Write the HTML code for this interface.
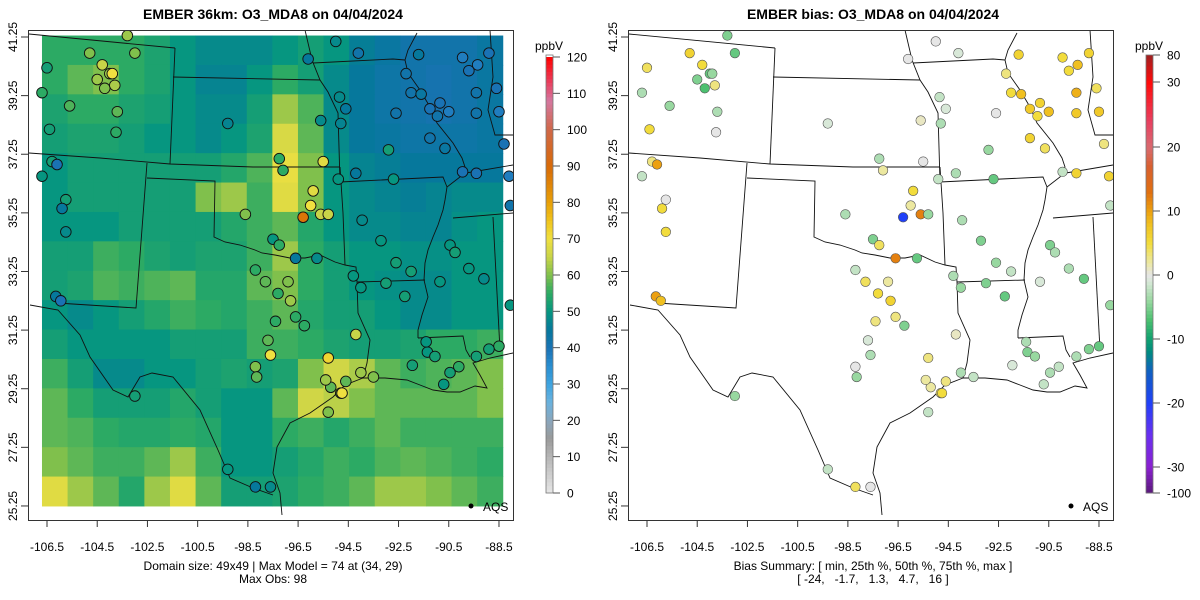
<!DOCTYPE html>
<html><head><meta charset="utf-8">
<style>
html,body{margin:0;padding:0;background:#fff;}
svg{display:block;font-family:"Liberation Sans",sans-serif;}
</style></head>
<body>
<svg id="chart" width="1200" height="600" viewBox="0 0 1200 600" xmlns="http://www.w3.org/2000/svg">
<defs>
<clipPath id="clipL"><rect x="28" y="30" width="485" height="490"/></clipPath>
<clipPath id="clipR"><rect x="628" y="30" width="485" height="490"/></clipPath>
</defs>
<rect width="1200" height="600" fill="#fff"/>
<text x="273" y="19" text-anchor="middle" font-size="14" font-weight="bold">EMBER 36km: O3_MDA8 on 04/04/2024</text>
<text x="873" y="19" text-anchor="middle" font-size="14" font-weight="bold">EMBER bias: O3_MDA8 on 04/04/2024</text>
<g id="left"></g>
<g id="right" transform="translate(600,0)"></g>
<text x="273" y="570" text-anchor="middle" font-size="12">Domain size: 49x49 | Max Model = 74 at (34, 29)</text>
<text x="273" y="583" text-anchor="middle" font-size="12">Max Obs: 98</text>
<text x="873" y="570" text-anchor="middle" font-size="12">Bias Summary: [ min, 25th %, 50th %, 75th %, max ]</text>
<text x="873" y="583" text-anchor="middle" font-size="12" xml:space="preserve">[ -24,   -1.7,   1.3,   4.7,   16 ]</text>
</svg>
<script>
// ---- data ----
const lonTicks = [-106.5,-104.5,-102.5,-100.5,-98.5,-96.5,-94.5,-92.5,-90.5,-88.5];
const latTicks = [41.25,39.25,37.25,35.25,33.25,31.25,29.25,27.25,25.25];
const obsTicks = [0,10,20,30,40,50,60,70,80,90,100,110,120];
const biasTicks = [80,30,20,10,0,-10,-20,-30,-100];
// coarse model grid (rows north->south, cols west->east), ppbV
const modelGrid = [
[55,55,55,55,53,50,48,48,48,50,52,50,46,44,42,42,42,44],
[55,58,60,55,53,50,47,47,50,55,52,48,45,43,42,41,42,44],
[53,55,55,53,52,50,48,48,52,62,57,48,45,43,42,41,42,44],
[52,53,53,52,50,50,48,50,53,67,58,48,45,44,43,43,43,44],
[50,52,52,52,52,52,52,54,57,69,60,50,47,46,45,45,45,45],
[50,52,52,52,52,52,60,62,56,68,60,50,48,47,46,47,48,48],
[50,50,50,52,52,52,52,54,56,58,54,50,48,48,47,47,49,50],
[52,52,56,55,53,52,53,53,56,62,55,52,50,50,49,49,50,50],
[52,53,57,56,57,58,54,54,58,60,55,52,50,49,48,48,50,50],
[50,48,50,52,54,56,55,54,56,58,54,52,52,50,48,48,50,50],
[52,50,50,50,50,52,52,52,56,56,55,53,52,52,53,55,55,56],
[56,52,48,48,50,50,52,53,52,53,60,66,63,58,56,57,58,60],
[58,55,52,52,52,54,52,50,50,58,66,64,60,58,58,58,58,60],
[58,57,55,54,54,55,54,50,50,55,56,54,56,58,56,56,56,56],
[60,58,56,56,58,62,56,50,50,52,54,56,55,57,58,57,56,55],
[68,62,58,54,62,68,58,52,52,53,55,56,58,62,62,60,58,56]
];
const stLon = [-104.3,-104.0,-104.5,-104.2,-103.8,-103.9,-104.8,-103.3,-103.0,-103.7,-103.75,-105.6,-106.4,-106.7,-106.5,-106.3,-106.1,-106.7,-105.75,-105.75,-105.9,-106.15,-105.95,-103.0,-99.3,-98.2,-97.6,-99.3,-95.6,-95.0,-94.1,-96.1,-97.25,-97.1,-95.5,-94.2,-94.85,-94.6,-94.8,-95.9,-96.0,-96.3,-95.6,-95.3,-94.9,-98.6,-97.5,-97.25,-96.6,-95.75,-98.2,-97.8,-96.9,-97.3,-96.8,-96.6,-97.4,-96.25,-94.2,-94.0,-97.7,-97.6,-98.2,-98.15,-95.3,-95.2,-94.8,-95.4,-94.6,-94.75,-95.3,-94.0,-93.5,-91.35,-91.05,-90.45,-90.1,-89.4,-88.5,-91.95,-90.7,-90.45,-90.25,-89.7,-89.1,-90.85,-92.25,-92.6,-92.9,-92.7,-93.95,-93.2,-92.0,-92.2,-92.0,-92.6,-91.6,-90.85,-91.25,-90.95,-90.5,-91.25,-90.65,-89.95,-89.4,-89.4,-89.4,-89.7,-89.35,-88.6,-88.5,-88.3,-89.95,-91.7,-88.9,-88.1,-88.05,-88.05,-93.0,-94.3,-91.4,-88.9];
const stLat = [40.3,40.0,39.8,39.5,39.6,40.0,40.7,41.3,40.7,38.7,38.0,38.9,38.1,39.35,40.2,37.0,36.9,36.5,35.7,34.6,35.4,32.4,32.25,29.0,26.5,25.9,25.9,38.3,38.4,41.1,40.7,40.5,37.1,36.7,37.0,36.6,39.2,38.8,38.3,36.0,35.5,35.1,35.2,35.2,36.4,35.2,34.35,34.15,33.7,33.7,33.3,32.9,32.9,32.5,32.25,31.7,31.55,31.4,31.1,32.7,30.9,30.4,30.0,29.65,30.3,29.3,29.1,29.55,29.5,29.1,28.45,29.8,29.65,30.5,30.35,29.8,30.0,30.35,30.7,30.05,29.4,34.15,33.9,33.35,33.0,32.9,32.4,33.55,37.4,36.4,35.0,34.3,33.25,40.0,39.35,38.65,39.3,39.0,38.8,38.55,38.7,37.8,37.45,36.65,36.6,38.65,39.35,40.1,40.3,39.5,38.7,37.6,40.55,40.65,40.7,36.5,35.5,32.1,32.85,33.1,30.85,30.6];
const stObs = [65,62,62,60,63,70,60,62,60,58,55,57,52,55,52,52,40,50,52,48,45,45,40,52,50,45,48,47,48,48,42,45,55,55,68,45,48,45,47,68,70,88,65,65,50,60,50,55,45,48,55,58,60,55,62,55,55,55,65,50,58,70,60,58,72,58,60,62,58,70,60,62,60,50,52,52,55,52,55,52,50,50,52,50,48,50,52,52,52,50,48,50,52,42,42,42,44,40,40,42,38,42,44,40,40,42,42,40,38,40,38,40,38,45,40,38,42,50,52,50,50,52];
const stBias = [5,-6,-5,-7,3,-4,6,-5,-6,-3,0,-4,5,-3,4,3,10,-2,0,5,5,10,8,-4,-2,4,0,-1,1,0,-1,0,-3,2,0,-3,-2,-1,-3,5,2,-20,12,-4,-2,-3,-5,4,12,-6,-2,4,2,5,6,3,3,-5,1,-4,-1,-3,0,-4,3,2,4,2,3,5,-2,-3,-2,-5,-4,-3,-2,-3,-6,-1,-2,-5,-3,-3,-6,-1,-6,-4,-4,-6,-3,-5,-2,3,5,0,8,6,7,5,8,6,4,-2,6,7,9,5,8,4,7,3,5,6,6,6,-2,-4,-5,-3,-3,-5];

// ---- scales ----
function xS(lon){return 47+(lon+106.5)*25.11;}
function yS(lat){return 37+(41.25-lat)*29.31;}
const obsStops=[[0,"#e6e6e6"],[10,"#b6b6b6"],[15,"#9a9a9a"],[20,"#8aa6bc"],[25,"#6ab2de"],[30,"#3ea4e0"],[35,"#2a8ed0"],[40,"#1a72b4"],[45,"#06789c"],[50,"#069680"],[55,"#2caa64"],[60,"#80c04c"],[65,"#c8d448"],[70,"#f0e040"],[75,"#f0c41c"],[80,"#e8a008"],[90,"#d86a08"],[100,"#d06848"],[108,"#d478a0"],[113,"#e84060"],[120,"#ff0000"]];
const biasStops=[[-100,"#5a1a7a"],[-30,"#8a20d0"],[-25,"#6a30f0"],[-20,"#2040f8"],[-15,"#1060c0"],[-12,"#008a80"],[-10,"#10a070"],[-7,"#4cc070"],[-4,"#98d8a0"],[-1,"#d8e8d8"],[0,"#e6e6e6"],[2,"#ece8a0"],[5,"#f2dc3c"],[8,"#f0c020"],[10,"#eca010"],[13,"#e07010"],[17,"#d86030"],[20,"#d86a70"],[24,"#e84060"],[30,"#ff0a0a"],[80,"#a02020"]];
function hx(c){return [parseInt(c.substr(1,2),16),parseInt(c.substr(3,2),16),parseInt(c.substr(5,2),16)];}
function cmap(stops,v){
  if(v<=stops[0][0])return stops[0][1];
  for(let i=1;i<stops.length;i++){if(v<=stops[i][0]){const a=hx(stops[i-1][1]),b=hx(stops[i][1]);const t=(v-stops[i-1][0])/(stops[i][0]-stops[i-1][0]);return "rgb("+a.map((q,k)=>Math.round(q+(b[k]-q)*t)).join(",")+")";}}
  return stops[stops.length-1][1];
}
const biasPos=[[80,55],[30,82],[20,147],[10,211],[0,275],[-10,339],[-20,403],[-30,467],[-100,493]];
function biasY(v){for(let i=1;i<biasPos.length;i++){if(v>=biasPos[i][0]){const a=biasPos[i-1],b=biasPos[i];return a[1]+(b[1]-a[1])*(v-a[0])/(b[0]-a[0]);}}return 493;}
function obsY(v){return 493-(v/120)*436;}

const NS="http://www.w3.org/2000/svg";
function mk(tag,parent,attrs){const e=document.createElementNS(NS,tag);for(const k in attrs)e.setAttribute(k,attrs[k]);parent.appendChild(e);return e;}

// state borders (base map geometry, panel-local px)
const borders=[
"M57,303 L136,308 L147,163",
"M147,178 L215,181 L214,237 L225,242 L240,245 L255,250 L262,253 L275,255 L290,258 L305,258 L320,255 L335,262 L345,265 L356,267 L357,282 L358,313 L370,340 L367,363 L363,378",
"M363,378 L345,385 L333,397 L310,413 L290,423 L277,447 L273,473 L280,493 L282,515",
"M273,495 L253,488 L230,478 L218,450 L200,410 L173,377 L152,373 L140,377 L128,397 L113,390 L90,357 L80,335 L58,310 L30,305",
"M29,153 L100,158 L170,164 L253,167 L340,167",
"M340,167 L343,213 L345,265",
"M175,48 L170,164","M173,77 L320,80","M29,34 L175,48",
"M305,30 L312,60 L320,80 L328,92 L338,113 L340,182",
"M313,63 L393,59 L405,60",
"M417,33 L408,50 L405,60 L408,73 L420,90 L430,107 L437,123 L453,143 L462,158 L465,167 L460,177 L447,187 L445,200 L443,210 L438,225 L433,237 L428,250 L425,263 L424,280 L428,297 L422,315 L418,330 L418,338",
"M340,182 L443,177 L447,187","M357,282 L425,280",
"M418,338 L463,336 L466,350 L470,357",
"M363,378 L385,378 L407,380 L420,385 L433,390 L447,392 L460,392 L475,386 L487,388 L480,375 L473,363 L490,358 L513,353",
"M453,218 L513,213","M460,174 L513,165",
"M493,217 L500,350","M490,30 L493,77 L488,110 L495,135 L513,135"
];

function panel(g,isBias,clip){
  // axis frame
  const plot=mk("g",g,{"clip-path":"url(#"+clip+")"});
  if(!isBias){
    const nR=modelGrid.length,nC=modelGrid[0].length;
    const lon0=-106.7,lon1=-88.35,lat0=41.3,lat1=25.25;
    const dLon=(lon1-lon0)/nC,dLat=(lat0-lat1)/nR;
    for(let r=0;r<nR;r++)for(let c=0;c<nC;c++){
      const x0=xS(lon0+c*dLon),x1=xS(lon0+(c+1)*dLon),y0=yS(lat0-r*dLat),y1=yS(lat0-(r+1)*dLat);
      const cell=mk("rect",plot,{x:x0,y:y0,width:x1-x0+0.5,height:y1-y0+0.5,fill:cmap(obsStops,modelGrid[r][c])});
      
      
    }
  }
  for(const d of borders){const p=mk("path",plot,{d:d,fill:"none",stroke:"#111","stroke-width":"0.9"});
    
    }
  for(let i=0;i<stLon.length;i++){
    const v=isBias?stBias[i]:stObs[i];
    const c=mk("circle",plot,{cx:xS(stLon[i]),cy:yS(stLat[i]),r:isBias?4.8:5.3,fill:isBias?cmap(biasStops,v):cmap(obsStops,v),stroke:isBias?"#555":"#111","stroke-width":isBias?"0.6":"0.9"});
    
    
  }
  const frame=mk("rect",g,{x:28.5,y:30.5,width:485,height:490,fill:"none",stroke:"#333","stroke-width":"1"});
  
  
  // x ticks
  for(const t of lonTicks){const x=xS(t);
    mk("line",g,{x1:x,x2:x,y1:520,y2:527,stroke:"#333"});
    const tx=mk("text",g,{x:x,y:551,"text-anchor":"middle","font-size":"12"});tx.textContent=t.toFixed(1);
    
    }
  for(const t of latTicks){const y=yS(t);
    mk("line",g,{x1:21,x2:28,y1:y,y2:y,stroke:"#333"});
    const tx=mk("text",g,{x:0,y:0,"text-anchor":"middle","font-size":"12",transform:"translate(17,"+y+") rotate(-90)"});tx.textContent=t.toFixed(2);
    
    }
  // legend
  mk("circle",g,{cx:471,cy:506,r:2.5,fill:"#000"});
  const lt=mk("text",g,{x:483,y:511,"font-size":"12"});lt.textContent="AQS";
  
  
  // colorbar
  const cb=mk("g",g,{});
  
  
  const N=120;
  for(let k=0;k<N;k++){
    let v0,v1,ya,yb;
    if(!isBias){v0=k;v1=k+1;ya=obsY(v1);yb=obsY(v0);}
    else{const lo=-100,hi=80;const pa=493-(k+1)*(438/N),pb=493-k*(438/N);ya=pa;yb=pb;
      // invert y->value
      v0=null;}
    let col;
    if(!isBias)col=cmap(obsStops,v0+0.5);
    else{const ym=(ya+yb)/2;let val=0;for(let i=1;i<biasPos.length;i++){const a=biasPos[i-1],b=biasPos[i];if(ym>=a[1]&&ym<=b[1]){val=a[0]+(b[0]-a[0])*(ym-a[1])/(b[1]-a[1]);break;}}col=cmap(biasStops,val);}
    mk("rect",cb,{x:546,y:ya,width:7,height:yb-ya+0.4,fill:col});
  }
  mk("rect",cb,{x:546,y:isBias?55:55,width:7,height:isBias?438:438,fill:"none",stroke:"#777","stroke-width":"0.8"});
  const ticks=isBias?biasTicks:obsTicks;
  for(const t of ticks){const y=isBias?biasY(t):obsY(t);
    mk("line",cb,{x1:553,x2:560,y1:y,y2:y,stroke:"#555"});
    const tx=mk("text",cb,{x:567,y:y+4.5,"font-size":"12"});tx.textContent=String(t);
    
    }
  const u=mk("text",cb,{x:549,y:50,"text-anchor":"middle","font-size":"12"});u.textContent="ppbV";
  
  
}
panel(document.getElementById("left"),false,"clipL");
panel(document.getElementById("right"),true,"clipR2");
// right clip in local coords
const rc=document.createElementNS(NS,"clipPath");rc.setAttribute("id","clipR2");
const rr=document.createElementNS(NS,"rect");rr.setAttribute("x","28");rr.setAttribute("y","30");rr.setAttribute("width","485");rr.setAttribute("height","490");
rc.appendChild(rr);document.querySelector("defs").appendChild(rc);
</script>
</body></html>
